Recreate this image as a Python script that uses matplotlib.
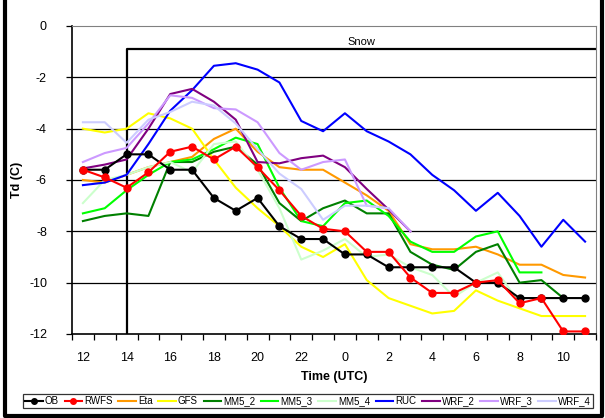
import numpy as np
import matplotlib
matplotlib.use("Agg")
import matplotlib.pyplot as plt
from matplotlib.lines import Line2D

plt.rcParams['font.family'] = ['Liberation Sans', 'DejaVu Sans']

# hourly categories from 12 UTC through 11 UTC the next day
hours = [12, 13, 14, 15, 16, 17, 18, 19, 20, 21, 22, 23,
         0, 1, 2, 3, 4, 5, 6, 7, 8, 9, 10, 11]
nan = np.nan

ob = [-5.6, -5.6, -5.0, -5.0, -5.6, -5.6, -6.7, -7.2, -6.7, -7.8, -8.3, -8.3,
      -8.9, -8.9, -9.4, -9.4, -9.4, -9.4, -10.0, -10.0, -10.6, -10.6, -10.6, -10.6]
rwfs = [-5.6, -5.9, -6.3, -5.7, -4.9, -4.7, -5.2, -4.7, -5.5, -6.4, -7.4, -7.9,
        -8.0, -8.8, -8.8, -9.8, -10.4, -10.4, -10.0, -9.9, -10.8, -10.6, -11.9, -11.9]
eta = [-6.0, -6.1, -5.8, -5.5, -5.3, -5.1, -4.4, -4.0, -4.9, -5.5, -5.6, -5.6,
       -6.1, -6.6, -7.2, -8.5, -8.7, -8.7, -8.6, -8.9, -9.3, -9.3, -9.7, -9.8]
gfs = [-4.0, -4.15, -4.0, -3.4, -3.6, -4.0, -5.2, -6.3, -7.1, -7.8, -8.6, -9.0,
       -8.5, -9.9, -10.6, -10.9, -11.2, -11.1, -10.3, -10.7, -11.0, -11.3, -11.3, -11.3]
mm5_2 = [-7.6, -7.4, -7.3, -7.4, -5.3, -5.3, -4.9, -4.7, -5.4, -6.9, -7.6, -7.1,
         -6.8, -7.3, -7.3, -8.8, -9.3, -9.5, -8.8, -8.5, -10.0, -9.9, -10.6, nan]
mm5_3 = [-7.3, -7.1, -6.4, -5.8, -5.3, -5.2, -4.8, -4.35, -4.6, -6.3, -7.6, -7.8,
         -6.9, -6.8, -7.4, -8.4, -8.8, -8.8, -8.2, -8.0, -9.6, -9.6, nan, nan]
mm5_4 = [-6.9, -6.0, -5.8, -5.5, -5.3, -5.7, -4.6, -4.5, -5.6, -7.1, -9.1, -8.75,
         -8.3, -9.0, -8.9, -9.4, -9.7, -10.55, -10.0, -9.6, -10.8, nan, nan, nan]
ruc = [-6.2, -6.1, -5.8, -4.6, -3.3, -2.5, -1.55, -1.45, -1.7, -2.2, -3.7, -4.1,
       -3.4, -4.1, -4.5, -5.0, -5.8, -6.4, -7.2, -6.5, -7.4, -8.6, -7.55, -8.4]
wrf_2 = [-5.55, -5.4, -5.2, -4.0, -2.65, -2.45, -2.95, -3.65, -5.3, -5.35, -5.15, -5.05,
         -5.5, -6.35, -7.15, -8.0, nan, nan, nan, nan, nan, nan, nan, nan]
wrf_3 = [-5.3, -4.95, -4.75, -3.8, -2.7, -2.8, -3.2, -3.25, -3.75, -4.95, -5.6, -5.3,
         -5.2, -7.0, -7.1, -8.0, nan, nan, nan, nan, nan, nan, nan, nan]
wrf_4 = [-3.75, -3.75, -4.55, -3.65, -3.35, -2.95, -3.1, -3.8, -4.8, -5.75, -6.35, -7.55,
         -7.0, -7.0, -7.1, nan, nan, nan, nan, nan, nan, nan, nan, nan]

series = [
    ("OB", ob, "#000000", True),
    ("RWFS", rwfs, "#ff0000", True),
    ("Eta", eta, "#ff9900", False),
    ("GFS", gfs, "#ffff00", False),
    ("MM5_2", mm5_2, "#008000", False),
    ("MM5_3", mm5_3, "#00ff00", False),
    ("MM5_4", mm5_4, "#ccffcc", False),
    ("RUC", ruc, "#0000ff", False),
    ("WRF_2", wrf_2, "#800080", False),
    ("WRF_3", wrf_3, "#cc99ff", False),
    ("WRF_4", wrf_4, "#ccccff", False),
]

snow_start = 2      # index of 14 UTC
snow_level = -0.9

fig = plt.figure(figsize=(6.05, 4.18), dpi=100)
ax = fig.add_axes([72 / 605, 1 - 334 / 418, (596 - 72) / 605, (334 - 26) / 418])

x = np.arange(len(hours))
ax.set_xlim(-0.5, len(hours) - 0.5)
ax.set_ylim(-12, 0)

for v in range(-10, 0, 2):
    ax.axhline(v, color="#000000", lw=0.9, zorder=1)

# snow period box
ax.plot([snow_start, snow_start, len(hours) - 0.5], [-12, snow_level, snow_level],
        color="black", lw=1.6, zorder=2)
ax.text((snow_start + len(hours) - 0.5) / 2, -0.62, "Snow", ha="center", va="center",
        fontsize=8)

handles = []
for i, (name, vals, col, dots) in enumerate(series):
    z = 10 if dots else 3 + i * 0.1
    ax.plot(x, vals, color=col, lw=1.5, marker="o" if dots else None,
            markersize=5, zorder=z)
    handles.append(Line2D([], [], color=col, lw=1.5, marker="o" if dots else None,
                          markersize=4, label=name))

ax.set_xticks(np.arange(-0.5, len(hours), 1.0))
ax.set_xticklabels([])
ax.set_xticks(x[::2], minor=True)
ax.set_xticklabels([str(h) for h in hours[::2]], minor=True, fontsize=9)
ax.tick_params(axis="x", which="major", direction="out", length=4, width=0.9)
ax.tick_params(axis="x", which="minor", length=0, pad=13)
ax.set_yticks(range(-12, 1, 2))
ax.set_yticklabels([str(v) for v in range(-12, 1, 2)], fontsize=9)
ax.tick_params(axis="y", direction="out", length=4, width=0.9, pad=14)

for s in ["top", "right"]:
    ax.spines[s].set_color("#808080")
for s in ["left", "bottom"]:
    ax.spines[s].set_color("black")
    ax.spines[s].set_linewidth(1.2)

ax.set_xlabel("Time (UTC)", fontsize=9, fontweight="bold", labelpad=5)
ax.set_ylabel("Td (C)", fontsize=9, fontweight="bold", labelpad=4)

leg = fig.legend(handles=handles, loc="center", bbox_to_anchor=(308 / 605, 1 - 401 / 418),
                 ncol=len(handles), fontsize=7, frameon=True, fancybox=False,
                 edgecolor="black", handlelength=1.8, handletextpad=0.2,
                 columnspacing=0.6, borderpad=0.25, borderaxespad=0)
leg.get_frame().set_linewidth(0.9)

# outer chart border
fig.add_artist(Line2D([5 / 605, 5 / 605, 602 / 605, 602 / 605],
                      [1.01, 2 / 418, 2 / 418, 1.01],
                      transform=fig.transFigure, color="black", lw=3))

fig.savefig("out.png", dpi=100)
